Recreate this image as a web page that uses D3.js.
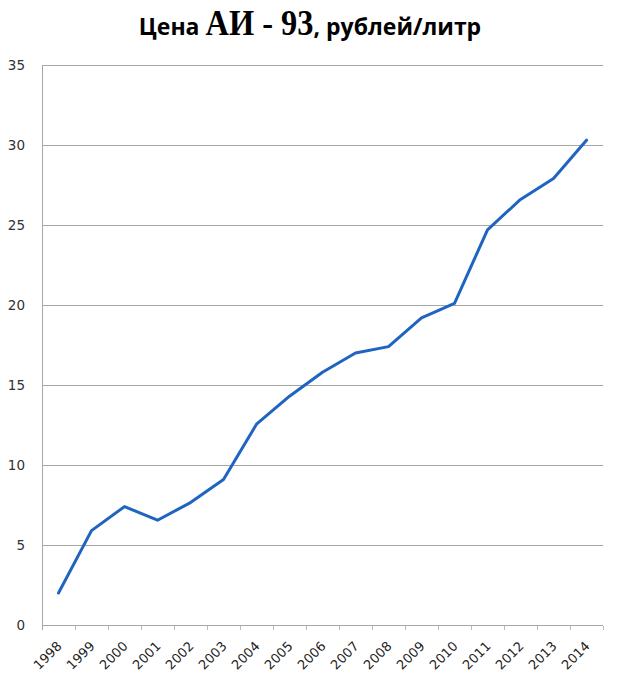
<!DOCTYPE html>
<html><head><meta charset="utf-8">
<script src="https://cdn.jsdelivr.net/npm/d3@7"></script>
<style>body{margin:0;background:#fff}</style>
</head><body>
<svg id="c" width="620" height="680"></svg>
<script>
const years = ["1998","1999","2000","2001","2002","2003","2004","2005","2006","2007","2008","2009","2010","2011","2012","2013","2014"];
const prices = [2.0,5.9,7.4,6.55,7.65,9.1,12.55,14.3,15.8,17.0,17.4,19.2,20.1,24.7,26.6,27.9,30.3];
const yTicks = [0,5,10,15,20,25,30,35];

const svg = d3.select("#c");
const mL = 42, mR = 603, mT = 65, mB = 625;
const x = d3.scaleBand().domain(years).range([mL, mR]);
const y = d3.scaleLinear().domain([0, 35]).range([mB, mT]);

// gridlines
svg.append("g").selectAll("line").data(yTicks).join("line")
  .attr("x1", mL).attr("x2", mR)
  .attr("y1", d => y(d) + 0.5).attr("y2", d => y(d) + 0.5)
  .attr("stroke", "#a6a6a6").attr("stroke-width", 1);

// y axis line
svg.append("line").attr("x1", mL + 0.5).attr("x2", mL + 0.5)
  .attr("y1", mT).attr("y2", mB + 5).attr("stroke", "#a6a6a6");

// y labels
svg.append("g").selectAll("text").data(yTicks).join("text")
  .attr("x", 25).attr("y", d => y(d) + 5)
  .attr("text-anchor", "end").attr("font-family", "DejaVu Sans, sans-serif")
  .attr("font-size", 13.5).attr("fill", "#333").text(d => d);

// x ticks
svg.append("g").selectAll("line").data(years).join("line")
  .attr("x1", d => x(d) + x.step() + 0.5)
  .attr("x2", d => x(d) + x.step() + 0.5)
  .attr("y1", mB + 1).attr("y2", mB + 5)
  .attr("stroke", "#bbb");

// x labels
svg.append("g").selectAll("text").data(years).join("text")
  .attr("transform", d => `translate(${x(d) + x.bandwidth() / 2 + 4},${mB + 22}) rotate(-45)`)
  .attr("text-anchor", "end").attr("font-family", "DejaVu Sans, sans-serif")
  .attr("font-size", 13).attr("fill", "#222").text(d => d);

// line
const line = d3.line().x((d, i) => x(years[i]) + x.bandwidth() / 2).y(d => y(d));
svg.append("path").datum(prices).attr("d", line)
  .attr("fill", "none").attr("stroke", "#1f64c0").attr("stroke-width", 3)
  .attr("stroke-linejoin", "round").attr("stroke-linecap", "round");

// title
const tg = svg.append("g");
const parts = [
  {t: "Цена", f: "Open Sans, DejaVu Sans, sans-serif", s: 23, sx: 1, gap: 6},
  {t: "АИ - 93", f: "Liberation Serif, serif", s: 36, sx: 0.9, gap: 0},
  {t: ", рублей/литр", f: "Open Sans, DejaVu Sans, sans-serif", s: 23, sx: 1, gap: 0}
];
let cx = 0;
parts.forEach(p => {
  const t = tg.append("text").attr("font-family", p.f).attr("font-size", p.s)
    .attr("font-weight", "bold").attr("fill", "#000").text(p.t);
  const w = t.node().getComputedTextLength() * p.sx;
  t.attr("transform", `translate(${cx},0) scale(${p.sx},1)`);
  cx += w + p.gap;
});
tg.attr("transform", `translate(${310 - cx / 2},35)`);
</script>
</body></html>
